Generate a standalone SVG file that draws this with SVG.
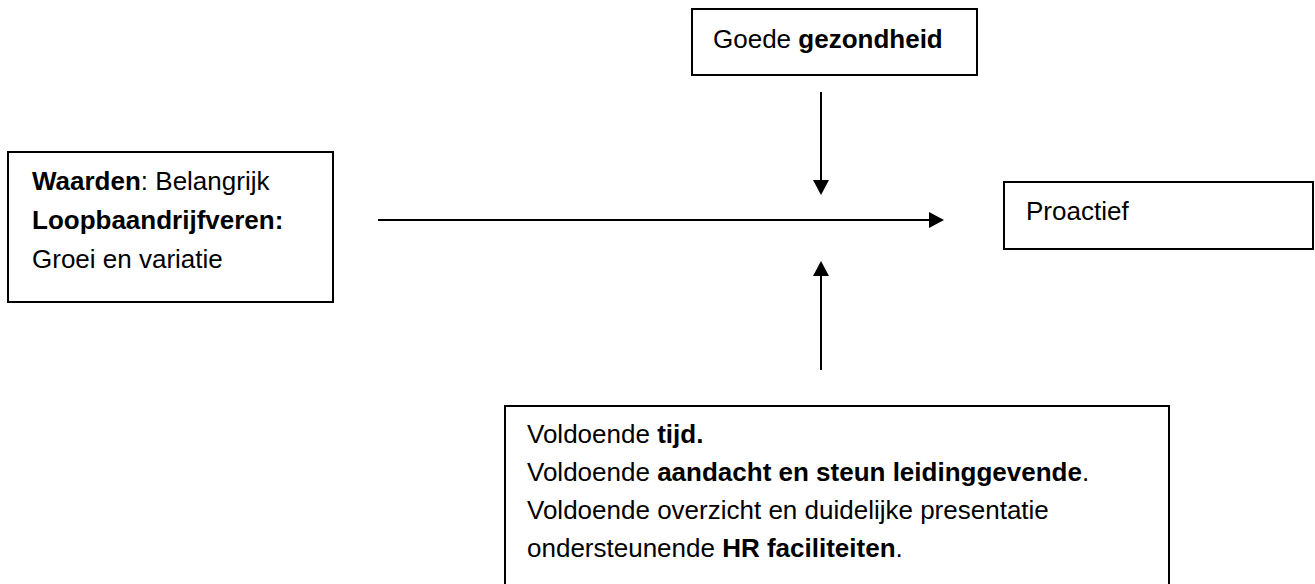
<svg xmlns="http://www.w3.org/2000/svg" width="1315" height="584" viewBox="0 0 1315 584">
<style>
.box{fill:#fff;stroke:#000;stroke-width:2}
text{font-family:"Liberation Sans",Arial,sans-serif;font-size:26px;fill:#000}
.b{font-weight:bold}
.c{stroke:#000;stroke-width:2;fill:none}
</style>
<defs>
<marker id="ah" viewBox="0 0 15 16" refX="5" refY="8" markerWidth="15" markerHeight="16" markerUnits="userSpaceOnUse" orient="auto">
<path d="M0,0 L15,8 L0,16 z" fill="#000"/>
</marker>
</defs>
<rect width="1315" height="584" fill="#fff"/>
<g id="waarden">
<rect class="box" x="8" y="152" width="325" height="150"/>
<text x="32" y="190"><tspan class="b">Waarden</tspan>: Belangrijk</text>
<text x="32" y="229" class="b">Loopbaandrijfveren:</text>
<text x="32" y="268">Groei en variatie</text>
</g>
<g id="gezondheid">
<rect class="box" x="692" y="9" width="285" height="66"/>
<text x="713" y="48">Goede <tspan class="b">gezondheid</tspan></text>
</g>
<g id="proactief">
<rect class="box" x="1004" y="182" width="309" height="67"/>
<text x="1026" y="220">Proactief</text>
</g>
<g id="voorwaarden">
<rect class="box" x="505" y="406" width="664" height="200"/>
<text x="527" y="443">Voldoende <tspan class="b">tijd.</tspan></text>
<text x="527" y="481">Voldoende <tspan class="b">aandacht en steun leidinggevende</tspan>.</text>
<text x="527" y="519">Voldoende overzicht en duidelijke presentatie</text>
<text x="527" y="557">ondersteunende <tspan class="b">HR faciliteiten</tspan>.</text>
</g>
<g id="connectors">
<line class="c" x1="378" y1="220" x2="934" y2="220" marker-end="url(#ah)"/>
<line class="c" x1="821" y1="92" x2="821" y2="185" marker-end="url(#ah)"/>
<line class="c" x1="821" y1="370" x2="821" y2="271" marker-end="url(#ah)"/>
</g>
</svg>
